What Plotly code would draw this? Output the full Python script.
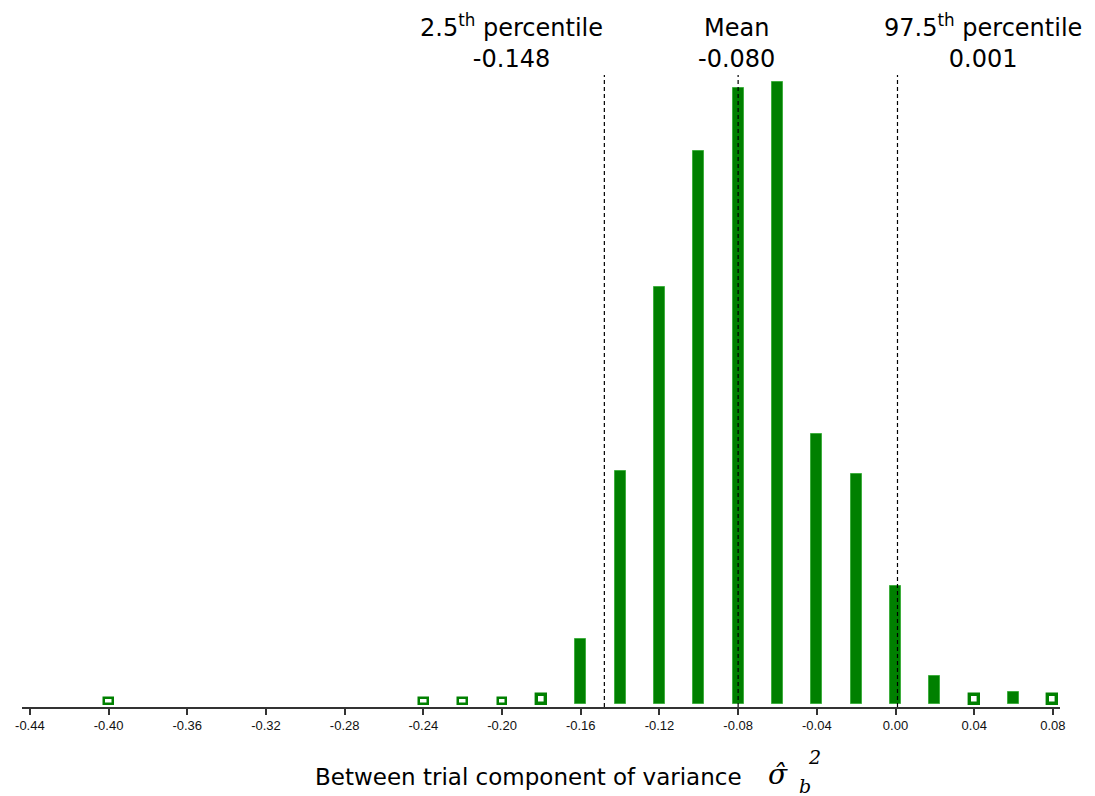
import plotly.graph_objects as go

# Bootstrap distribution of the between-trial variance component
bin_centres = [-0.40, -0.24, -0.22, -0.20, -0.18, -0.16, -0.14, -0.12, -0.10,
               -0.08, -0.06, -0.04, -0.02, 0.00, 0.02, 0.04, 0.06, 0.08]
counts = [2, 2, 2, 2, 3, 21, 75, 134, 178, 198, 200, 87, 74, 38, 9, 3, 4, 3]

tick_vals = [-0.44, -0.40, -0.36, -0.32, -0.28, -0.24, -0.20, -0.16, -0.12,
             -0.08, -0.04, 0.00, 0.04, 0.08]
tick_text = ["-0.44", "-0.40", "-0.36", "-0.32", "-0.28", "-0.24", "-0.20",
             "-0.16", "-0.12", "-0.08", "-0.04", "0.00", "0.04", "0.08"]

p025 = -0.148
mean_val = -0.080
p975 = 0.001

GREEN = "#008000"
EDGE = "#3fae3f"
TEXT_FONT = "DejaVu Sans"

# very small counts are drawn as outlined boxes
fills = ["white" if c <= 3 else GREEN for c in counts]
edge_cols = [GREEN if c <= 3 else EDGE for c in counts]
edge_w = [2.5 if c == 2 else (3.4 if c == 3 else 1) for c in counts]
widths = [0.0045 if c <= 3 else 0.0056 for c in counts]

fig = go.Figure()
fig.add_trace(go.Bar(
    x=bin_centres, y=counts, width=widths,
    marker=dict(color=fills, line=dict(color=edge_cols, width=edge_w)),
    hoverinfo="x+y", showlegend=False,
))

for xv in (p025, mean_val, p975):
    fig.add_shape(type="line", x0=xv, x1=xv, xref="x", y0=0, y1=1, yref="paper",
                  line=dict(color="black", width=1.2, dash="4px,3px"))


def label(x, first, second):
    fig.add_annotation(x=x, xref="x", y=1, yref="paper",
                       text=first + "<br>" + second, showarrow=False,
                       yanchor="bottom", xanchor="center",
                       font=dict(family=TEXT_FONT, size=24, color="black"))


label(-0.195, "2.5<sup>th</sup> percentile", f"{p025:.3f}")
label(-0.081, "Mean", f"{mean_val:.3f}")
label(0.0445, "97.5<sup>th</sup> percentile", f"{p975:.3f}")

# x-axis title built from pieces so the symbol gets both sub- and superscript
PW, PH, L, B = 1038, 632, 22, 707


def px_x(v):
    return (v - L) / PW


def px_y(v):
    return -(v - B) / PH


fig.add_annotation(x=px_x(744), xref="paper", y=px_y(777), yref="paper",
                   text="Between trial component of variance", showarrow=False,
                   xanchor="right", yanchor="middle",
                   font=dict(family=TEXT_FONT, size=23, color="black"))
fig.add_annotation(x=px_x(778), xref="paper", y=px_y(775), yref="paper",
                   text="<i>σ̂</i>", showarrow=False,
                   xanchor="center", yanchor="middle",
                   font=dict(family="DejaVu Serif", size=28, color="black"))
fig.add_annotation(x=px_x(797), xref="paper", y=px_y(786), yref="paper",
                   text="<i>b</i>", showarrow=False,
                   xanchor="left", yanchor="middle",
                   font=dict(family="DejaVu Serif", size=19, color="black"))
fig.add_annotation(x=px_x(806), xref="paper", y=px_y(757), yref="paper",
                   text="<i>2</i>", showarrow=False,
                   xanchor="left", yanchor="middle",
                   font=dict(family="DejaVu Serif", size=19, color="black"))

fig.update_layout(
    width=1095, height=796,
    margin=dict(l=22, r=35, t=75, b=89),
    plot_bgcolor="white", paper_bgcolor="white",
    bargap=0,
    xaxis=dict(
        range=[-0.444, 0.0836], tickvals=tick_vals, ticktext=tick_text,
        showline=True, linecolor="#333333", linewidth=1.5,
        ticks="outside", ticklen=6, tickcolor="#333333", tickwidth=1.5,
        showgrid=False, zeroline=False,
        tickfont=dict(family="Liberation Sans", size=13, color="#111111"),
    ),
    yaxis=dict(range=[-0.96, 202.3], visible=False, showgrid=False, zeroline=False),
)

fig.write_html("out.html")
